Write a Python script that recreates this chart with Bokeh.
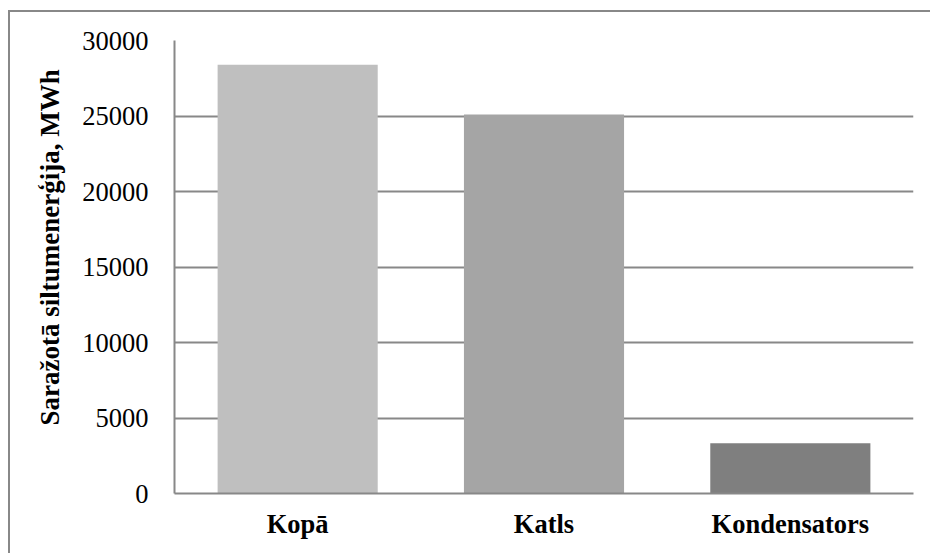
from bokeh.plotting import figure
from bokeh.models import FactorRange, SingleIntervalTicker, Title
from bokeh.embed import file_html
from bokeh.resources import INLINE

categories = ["Kopā", "Katls", "Kondensators"]
values = [28400, 25100, 3330]
colors = ["#bfbfbf", "#a5a5a5", "#7f7f7f"]
y_title = "Saražotā siltumenerģija, MWh"

# figure placed inside a chart border (left/top edges visible at x=8, y=10)
p = figure(width=925, height=543, x_range=FactorRange(*categories, range_padding=0),
           y_range=(0, 30000), output_backend="svg", toolbar_location=None,
           min_border_left=164, min_border_right=22, min_border_top=28, min_border_bottom=62)
p.styles = {"margin-left": "10px", "margin-top": "12px",
            "box-shadow": "-2px -2px 0 0 #888888",
            "clip-path": "inset(-2px 5px 0px -2px)"}
p.vbar(x=categories, top=values, width=0.65, fill_color=colors, line_color=None)

p.outline_line_color = None
p.xgrid.grid_line_color = None
p.ygrid.grid_line_color = "#888888"
p.ygrid.grid_line_width = 2
p.yaxis.ticker = SingleIntervalTicker(interval=5000)

for ax in (p.xaxis, p.yaxis):
    ax.axis_line_color = "#888888"
    ax.axis_line_width = 2
    ax.major_tick_line_color = None
    ax.minor_tick_line_color = None
    ax.major_label_text_font = "Liberation Serif"
    ax.major_label_text_color = "black"

p.yaxis.major_label_text_font_size = "26.5px"
p.yaxis.major_label_standoff = 20
p.xaxis.major_label_text_font_size = "26.5px"
p.xaxis.major_label_text_font_style = "bold"
p.xaxis.major_label_standoff = 9

p.add_layout(Title(text=y_title, align="left", offset=68, standoff=30,
                   text_font="Liberation Serif", text_font_size="27px",
                   text_font_style="bold", text_color="black"), "left")

open("out.html", "w").write(file_html(p, INLINE))
